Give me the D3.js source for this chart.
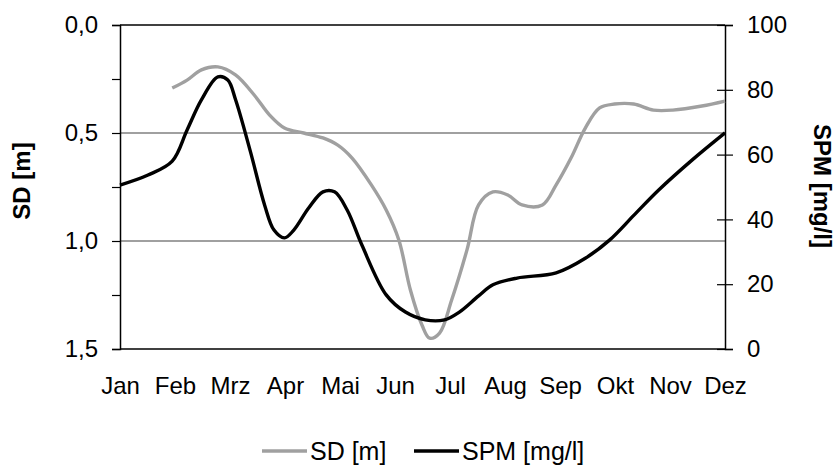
<!DOCTYPE html>
<html><head><meta charset="utf-8">
<script src="https://cdn.jsdelivr.net/npm/d3@7"></script>
<style>body{margin:0;background:#fff}svg{display:block}text{font-family:"Liberation Sans",Arial,sans-serif}</style>
</head><body><svg id="c" width="837" height="466"></svg>
<script>
const months = ["Jan","Feb","Mrz","Apr","Mai","Jun","Jul","Aug","Sep","Okt","Nov","Dez"];
const sdTicks = [0,0.5,1.0,1.5];
const spmTicks = [0,20,40,60,80,100];
// positions in months (Jan = 0 ... Dez = 11)
const sdPos = [0.95,1.22,1.48,1.78,2.1,2.44,2.72,2.99,3.34,3.69,3.96,4.22,4.57,4.84,5.07,5.28,5.49,5.63,5.81,6.03,6.31,6.52,6.78,7.05,7.31,7.68,7.93,8.2,8.46,8.72,8.99,9.34,9.7,10.05,10.58,11];
const sdVals = [0.292,0.255,0.208,0.194,0.231,0.324,0.417,0.477,0.5,0.523,0.556,0.616,0.74,0.856,0.995,1.227,1.389,1.45,1.426,1.273,1.04,0.833,0.773,0.787,0.833,0.833,0.74,0.616,0.477,0.384,0.366,0.366,0.394,0.394,0.375,0.352];
const spmPos = [0,0.51,0.95,1.22,1.48,1.78,1.96,2.1,2.37,2.63,2.8,2.99,3.16,3.43,3.69,3.9,4.13,4.4,4.84,5.19,5.55,5.9,6.17,6.52,6.78,7.22,7.93,8.46,8.9,9.35,9.79,10.4,11];
const spmVals = [50.6,53.7,58,67.6,76.9,84,83,77,61,44.4,36.7,34.3,36.7,43.5,48.5,48.5,42.9,32,16.7,11.4,9,9,11.4,16.4,19.8,21.9,23.5,28,33.6,41.4,49,58.3,66.7];

const L=120,R=725,T=25,B=349;
const FS=24;
const svg=d3.select("#c");
const x=d3.scaleLinear().domain([0,11]).range([L,R]);
const yL=d3.scaleLinear().domain([0,1.5]).range([T,B]);
const yR=d3.scaleLinear().domain([0,100]).range([B,T]);

// gridlines
svg.append("g").selectAll("line").data([0.5,1.0]).join("line")
  .attr("x1",L).attr("x2",R).attr("y1",d=>yL(d)).attr("y2",d=>yL(d))
  .attr("stroke","#808080").attr("stroke-width",1.3);
// frame top/bottom
svg.append("line").attr("x1",L).attr("x2",R).attr("y1",T).attr("y2",T).attr("stroke","#000").attr("stroke-width",1.5);
svg.append("line").attr("x1",L).attr("x2",R).attr("y1",B).attr("y2",B).attr("stroke","#000").attr("stroke-width",1.5);

// left axis
const gl=svg.append("g").attr("transform",`translate(${L},0)`)
  .call(d3.axisLeft(yL).tickValues(sdTicks).tickSize(8).tickPadding(14).tickFormat(d=>d3.format(".1f")(d).replace(".",",")));
gl.append("g").call(d3.axisLeft(yL).tickValues([0.25,0.75,1.25]).tickSize(8).tickFormat(""));
// right axis
const gr=svg.append("g").attr("transform",`translate(${R},0)`)
  .call(d3.axisRight(yR).tickValues(spmTicks).tickSize(8).tickPadding(14));
gr.selectAll(".tick line").attr("x1",-8);
// bottom axis labels
const gb=svg.append("g").attr("transform",`translate(0,${B})`)
  .call(d3.axisBottom(x).tickValues(d3.range(12)).tickSize(0).tickPadding(28).tickFormat(i=>months[i]));
gb.select(".domain").remove();
[gl,gr,gb].forEach(g=>{
  g.selectAll("text").attr("font-size",FS).attr("fill","#000").style("font-family","'Liberation Sans',Arial,sans-serif");
  g.selectAll("path.domain").attr("stroke","#000").attr("stroke-width",1.5);
  g.selectAll(".tick line").attr("stroke","#000").attr("stroke-width",1.2);
});
gl.selectAll("g g path.domain").remove();

// lines
const line=(ys)=>d3.line().x(d=>x(d[0])).y(d=>ys(d[1])).curve(d3.curveCatmullRom.alpha(0.5));
svg.append("path").datum(sdPos.map((p,i)=>[p,sdVals[i]])).attr("d",line(yL))
  .attr("fill","none").attr("stroke","#a0a0a0").attr("stroke-width",3.4).attr("stroke-linejoin","round");
svg.append("path").datum(spmPos.map((p,i)=>[p,spmVals[i]])).attr("d",line(yR))
  .attr("fill","none").attr("stroke","#000").attr("stroke-width",3.4).attr("stroke-linejoin","round");

// axis titles
svg.append("text").attr("transform",`translate(30,181) rotate(-90)`).attr("text-anchor","middle")
  .attr("font-weight","bold").attr("font-size",24).text("SD [m]");
svg.append("text").attr("transform",`translate(814,186) rotate(90)`).attr("text-anchor","middle")
  .attr("font-weight","bold").attr("font-size",24).text("SPM [mg/l]");

// legend
const lg=svg.append("g").attr("transform","translate(0,451)");
const items=[{t:"SD [m]",c:"#a0a0a0",x:262},{t:"SPM [mg/l]",c:"#000",x:414}];
items.forEach(it=>{
  lg.append("line").attr("x1",it.x).attr("x2",it.x+45).attr("y1",0).attr("y2",0).attr("stroke",it.c).attr("stroke-width",3.4);
  lg.append("text").attr("x",it.x+48).attr("y",9).attr("font-size",25).text(it.t);
});
</script></body></html>
